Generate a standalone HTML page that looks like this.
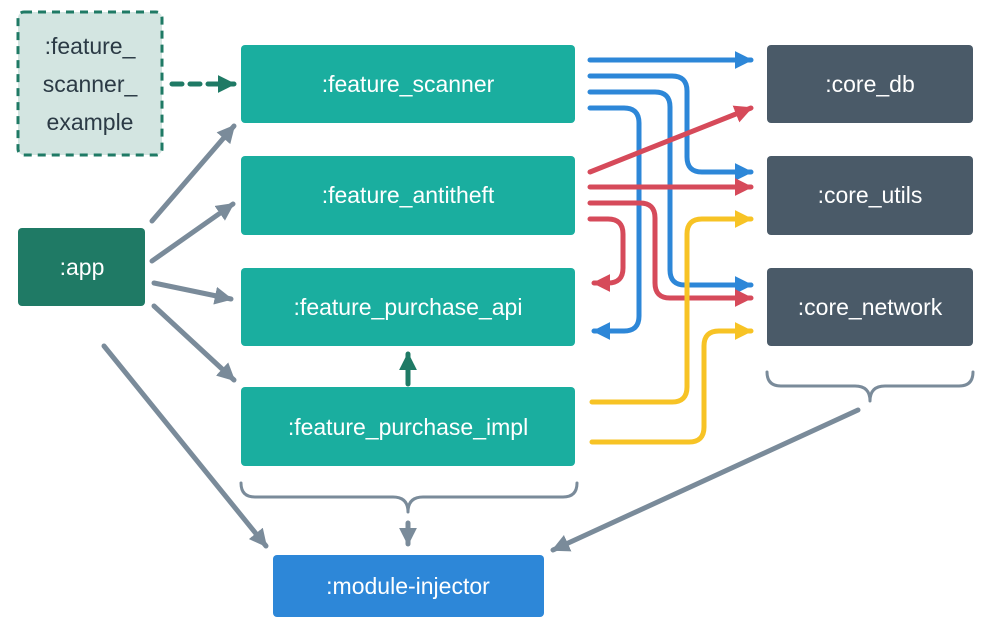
<!DOCTYPE html>
<html><head><style>
body{margin:0;background:#fff;width:994px;height:637px;overflow:hidden}
svg{position:absolute;left:0;top:0}
text{font-family:"Liberation Sans",sans-serif;font-size:23px;text-anchor:middle;dominant-baseline:central}
</style></head><body>
<svg width="994" height="637" viewBox="0 0 994 637">
<defs>
<marker id="ab" viewBox="0 0 10 10" refX="9" refY="5" markerWidth="3.6" markerHeight="3.6" orient="auto-start-reverse"><path d="M0,0L10,5L0,10z" fill="#2d87d8"/></marker>
<marker id="ar" viewBox="0 0 10 10" refX="9" refY="5" markerWidth="3.6" markerHeight="3.6" orient="auto-start-reverse"><path d="M0,0L10,5L0,10z" fill="#d64a5a"/></marker>
<marker id="ay" viewBox="0 0 10 10" refX="9" refY="5" markerWidth="3.6" markerHeight="3.6" orient="auto-start-reverse"><path d="M0,0L10,5L0,10z" fill="#f7c325"/></marker>
<marker id="ag" viewBox="0 0 10 10" refX="9" refY="5" markerWidth="3.6" markerHeight="3.6" orient="auto-start-reverse"><path d="M0,0L10,5L0,10z" fill="#7a8b9a"/></marker>
<marker id="at" viewBox="0 0 10 10" refX="9" refY="5" markerWidth="3.6" markerHeight="3.6" orient="auto-start-reverse"><path d="M0,0L10,5L0,10z" fill="#1f7a65"/></marker>
</defs>
<rect x="18" y="12" width="144" height="143" rx="6" fill="#d3e5e1" stroke="#1f7a65" stroke-width="3" stroke-dasharray="8 6"/>
<text x="90" y="46" fill="#2b3a45">:feature_</text>
<text x="90" y="84" fill="#2b3a45">scanner_</text>
<text x="90" y="122" fill="#2b3a45">example</text>
<rect x="18" y="228" width="127" height="78" rx="4" fill="#1f7a65"/>
<text x="82" y="267" fill="#fff">:app</text>
<g fill="#1aae9f">
<rect x="241" y="45" width="334" height="78" rx="4"/>
<rect x="241" y="156" width="334" height="79" rx="4"/>
<rect x="241" y="268" width="334" height="78" rx="4"/>
<rect x="241" y="387" width="334" height="79" rx="4"/>
</g>
<g fill="#fff">
<text x="408" y="84">:feature_scanner</text>
<text x="408" y="195">:feature_antitheft</text>
<text x="408" y="307">:feature_purchase_api</text>
<text x="408" y="427">:feature_purchase_impl</text>
</g>
<g fill="#4a5a68">
<rect x="767" y="45" width="206" height="78" rx="4"/>
<rect x="767" y="156" width="206" height="79" rx="4"/>
<rect x="767" y="268" width="206" height="78" rx="4"/>
</g>
<g fill="#fff">
<text x="870" y="84">:core_db</text>
<text x="870" y="195">:core_utils</text>
<text x="870" y="307">:core_network</text>
</g>
<rect x="273" y="555" width="271" height="62" rx="4" fill="#2d87d8"/>
<text x="408" y="586" fill="#fff">:module-injector</text>
<g fill="none" stroke-width="5" stroke-linecap="round" stroke-linejoin="round">
<path d="M172,84H234" stroke="#1f7a65" stroke-dasharray="10 8" marker-end="url(#at)"/>
<path d="M408,384V354" stroke="#1f7a65" marker-end="url(#at)"/>
<g stroke="#7a8b9a">
<path d="M152,221L234,126" marker-end="url(#ag)"/>
<path d="M152,261L233,204" marker-end="url(#ag)"/>
<path d="M154,283L231,299" marker-end="url(#ag)"/>
<path d="M154,306L234,380" marker-end="url(#ag)"/>
<path d="M104,346L266,546" marker-end="url(#ag)"/>
<path d="M858,410L553,550" marker-end="url(#ag)"/>
<path d="M408,523V544" marker-end="url(#ag)"/>
</g>
<g stroke="#7a8b9a" stroke-width="3">
<path d="M241,483q0,14 14,14H393q15,0 15,15q0,-15 15,-15H563q14,0 14,-14"/>
<path d="M767,372q0,14 14,14H855q15,0 15,15q0,-15 15,-15H959q14,0 14,-14"/>
</g>
<g stroke="#2d87d8">
<path d="M590,60H751" marker-end="url(#ab)"/>
<path d="M590,76H672q15,0 15,15V157q0,15 15,15H751" marker-end="url(#ab)"/>
<path d="M590,92H655q15,0 15,15V270q0,15 15,15H751" marker-end="url(#ab)"/>
<path d="M590,108H624q15,0 15,15V316q0,15 -15,15H594" marker-end="url(#ab)"/>
</g>
<g stroke="#d64a5a">
<path d="M590,172L751,108" marker-end="url(#ar)"/>
<path d="M590,187H751" marker-end="url(#ar)"/>
<path d="M590,203H640q15,0 15,15V283q0,15 15,15H751" marker-end="url(#ar)"/>
<path d="M590,219H608q15,0 15,15V268q0,15 -15,15H594" marker-end="url(#ar)"/>
</g>
<g stroke="#f7c325">
<path d="M592,402H672q15,0 15,-15V234q0,-15 15,-15H751" marker-end="url(#ay)"/>
<path d="M592,442H689q15,0 15,-15V346q0,-15 15,-15H751" marker-end="url(#ay)"/>
</g>
</g>
</svg>
</body></html>
